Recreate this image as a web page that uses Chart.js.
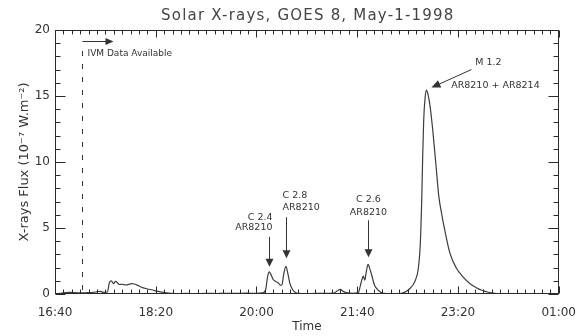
<!DOCTYPE html>
<html>
<head>
<meta charset="utf-8">
<script src="https://cdn.jsdelivr.net/npm/chart.js@4/dist/chart.umd.min.js"></script>
<style>
  html, body { margin: 0; padding: 0; background: #fff; }
  canvas { display: block; }
</style>
</head>
<body>
<canvas id="c" width="588" height="336"></canvas>
<script>
// ---- data (time in minutes after 16:40, flux in 10^-7 W.m^-2) ----
const startLabel = '16:40';
const tickLabels = ['16:40', '18:20', '20:00', '21:40', '23:20', '01:00'];
const minutes = [
  0, 5, 10, 15, 20, 26, 32, 38, 42, 45, 48, 52, 54, 56, 58, 60, 62, 64, 67, 70,
  73, 76, 79, 83, 87, 92, 97, 101, 106, 111, 116, 121, 130, 140, 150, 160, 170, 180, 190, 200,
  206, 209, 211, 212.6, 214.5, 216.6, 219, 221.5, 224, 225.5, 227, 229.2, 231, 233, 235, 237, 241, 250, 260, 270,
  276, 280, 283, 286, 289, 295, 301, 303, 304.5, 306, 307.5, 309, 310.8, 312.5, 314.5, 317, 320, 323, 326, 335,
  342, 346, 349, 352, 355.5, 358, 360.4, 362, 363, 364, 365, 366, 367.3, 368.7, 370, 372, 375, 378, 381, 384,
  387, 392, 398.5, 405, 411.7, 418.3, 423, 428, 433, 438
];
const flux = [
  0.02, 0.05, 0.10, 0.12, 0.10, 0.08, 0.10, 0.12, 0.18, 0.20, 0.12, 0.15, 0.88, 1.00, 0.78, 0.95, 0.85, 0.72, 0.74, 0.68,
  0.72, 0.78, 0.76, 0.62, 0.48, 0.38, 0.30, 0.22, 0.14, 0.08, 0.05, 0.03, 0.04, 0.02, 0.05, 0.03, 0.05, 0.04, 0.06, 0.05,
  0.08, 0.30, 1.30, 1.68, 1.45, 1.10, 0.95, 0.85, 0.65, 0.75, 1.50, 2.10, 1.60, 0.85, 0.45, 0.22, 0.05, 0.02, 0.05, 0.04,
  0.06, 0.22, 0.35, 0.20, 0.10, 0.05, 0.08, 0.60, 1.05, 1.35, 1.05, 1.70, 2.25, 1.90, 1.40, 0.70, 0.35, 0.15, 0.04, 0.02,
  0.03, 0.10, 0.20, 0.40, 0.70, 1.10, 1.80, 3.00, 4.50, 7.00, 10.5, 13.2, 14.8, 15.45, 15.2, 14.4, 12.4, 9.9, 7.4, 6.0,
  4.8, 3.1, 1.95, 1.3, 0.8, 0.48, 0.30, 0.18, 0.08, 0.03
];
const ivmStart = 26.5;               // minutes after 16:40
const flareClasses = ['C 2.4', 'C 2.8', 'C 2.6', 'M 1.2'];
const flareRegions = ['AR8210', 'AR8210', 'AR8210', 'AR8210 + AR8214'];
const flareTimes = [212.3, 229.2, 310.8, 368.7];
const flarePeaks = [1.68, 2.10, 2.25, 15.45];

const FONT = "'DejaVu Sans', sans-serif";
const INK = '#333';

function fmtTime(v) {
  const [h0, m0] = startLabel.split(':').map(Number);
  let t = h0 * 60 + m0 + Math.round(v);
  t = ((t % 1440) + 1440) % 1440;
  const h = Math.floor(t / 60), m = t % 60;
  return String(h).padStart(2, '0') + ':' + String(m).padStart(2, '0');
}

function arrowHead(ctx, tx, ty, dx, dy, len, half) {
  const L = Math.hypot(dx, dy); const ux = dx / L, uy = dy / L;
  const bx = tx - ux * len, by = ty - uy * len;
  ctx.beginPath();
  ctx.moveTo(tx, ty);
  ctx.lineTo(bx - uy * half, by + ux * half);
  ctx.lineTo(bx + uy * half, by - ux * half);
  ctx.closePath();
  ctx.fill();
}

const decor = {
  id: 'decor',
  afterDraw(chart) {
    const ctx = chart.ctx;
    const xs = chart.scales.x, ys = chart.scales.y;
    const a = chart.chartArea;
    const L = Math.round(a.left) + 0.5, R = Math.round(a.right) - 0.5;
    const T = Math.round(a.top) + 0.5, B = Math.round(a.bottom) - 0.5;
    ctx.save();
    ctx.lineWidth = 1;
    ctx.strokeStyle = '#2a2a2a';
    // x ticks (top and bottom)
    ctx.beginPath();
    for (let i = 0; i <= 60; i++) {
      const v = xs.min + i * (xs.max - xs.min) / 60;
      const px = Math.round(xs.getPixelForValue(v)) + 0.5;
      const len = (i % 12 === 0) ? 7 : 4;
      ctx.moveTo(px, B); ctx.lineTo(px, B - len);
      ctx.moveTo(px, T); ctx.lineTo(px, T + len);
    }
    // y ticks (left and right)
    for (let v = ys.min; v <= ys.max; v += 1) {
      const py = Math.round(ys.getPixelForValue(v)) + 0.5;
      const len = (v % 5 === 0) ? 10 : 5;
      ctx.moveTo(L, py); ctx.lineTo(L + len, py);
      ctx.moveTo(R, py); ctx.lineTo(R - len, py);
    }
    ctx.stroke();
    // frame
    ctx.strokeRect(L, T, R - L, B - T);
    ctx.strokeStyle = INK; ctx.fillStyle = INK;

    // IVM data available marker
    const ix = Math.round(xs.getPixelForValue(ivmStart)) + 0.5;
    ctx.setLineDash([5, 8]);
    ctx.beginPath(); ctx.moveTo(ix, a.top + 21); ctx.lineTo(ix, a.bottom); ctx.stroke();
    ctx.setLineDash([]);
    const ay = a.top + 11.5;
    ctx.beginPath(); ctx.moveTo(ix, ay); ctx.lineTo(ix + 24, ay); ctx.stroke();
    arrowHead(ctx, ix + 31, ay, 1, 0, 8, 3.5);
    ctx.font = '9px ' + FONT; ctx.textBaseline = 'middle'; ctx.textAlign = 'left';
    ctx.fillText('IVM Data Available', ix + 5, a.top + 23.5);

    // flare annotations
    const layout = [
      { gap: 5, len: 30, align: 'right', dx: 3, y1: -19.5, y2: -9 },
      { gap: 8, len: 41, align: 'left', dx: -4, y1: -21.5, y2: -10 },
      { gap: 7, len: 37, align: 'center', dx: 0, y1: -21, y2: -8 }
    ];
    ctx.font = '9.5px ' + FONT;
    for (let k = 0; k < 3; k++) {
      const o = layout[k];
      const px = Math.round(xs.getPixelForValue(flareTimes[k])) + 0.5;
      const tip = ys.getPixelForValue(flarePeaks[k]) - o.gap;
      const top = tip - o.len;
      ctx.beginPath(); ctx.moveTo(px, top); ctx.lineTo(px, tip - 6); ctx.stroke();
      arrowHead(ctx, px, tip, 0, 1, 8, 4);
      ctx.textAlign = o.align;
      ctx.fillText(flareClasses[k], px + o.dx, top + o.y1);
      ctx.fillText(flareRegions[k], px + o.dx, top + o.y2);
    }
    // M flare
    const mx = xs.getPixelForValue(flareTimes[3]), my = ys.getPixelForValue(flarePeaks[3]);
    const tx = mx + 5, ty = my - 2.5, sx = tx + 40, sy = ty - 18;
    ctx.beginPath(); ctx.moveTo(sx, sy); ctx.lineTo(tx + 5, ty - 2.2); ctx.stroke();
    arrowHead(ctx, tx, ty, tx - sx, ty - sy, 9, 4);
    ctx.textAlign = 'center';
    ctx.fillText(flareClasses[3], mx + 62, my - 28);
    ctx.fillText(flareRegions[3], mx + 69, my - 5);

    // title
    ctx.font = '15px ' + FONT;
    ctx.textAlign = 'center'; ctx.textBaseline = 'middle';
    ctx.fillStyle = '#444';
    if ('letterSpacing' in ctx) ctx.letterSpacing = '1.2px';
    ctx.fillText('Solar X-rays, GOES 8, May-1-1998', (a.left + a.right) / 2 + 1, 16);
    ctx.restore();
  }
};

new Chart(document.getElementById('c'), {
  type: 'line',
  data: {
    datasets: [{
      data: minutes.map((m, i) => ({ x: m, y: flux[i] })),
      borderColor: '#3c3c3c',
      borderWidth: 1.2,
      pointRadius: 0,
      cubicInterpolationMode: 'monotone',
      fill: false
    }]
  },
  options: {
    responsive: false,
    animation: false,
    devicePixelRatio: 1,
    layout: { padding: { top: 30, right: 29, left: 0, bottom: 0 } },
    plugins: { legend: { display: false }, tooltip: { enabled: false }, title: { display: false } },
    scales: {
      x: {
        type: 'linear', min: 0, max: 500,
        afterBuildTicks: s => { s.ticks = tickLabels.map((_, i) => ({ value: i * 100 })); },
        ticks: {
          callback: (v) => fmtTime(v), autoSkip: false, maxRotation: 0,
          font: { family: FONT, size: 12 }, color: INK, padding: 12
        },
        grid: { display: false, drawTicks: false },
        border: { display: false },
        title: { display: true, text: 'Time', font: { family: FONT, size: 12 }, color: INK, padding: { top: 0, bottom: 2 } },
        afterFit: s => { s.height = 42; }
      },
      y: {
        min: 0, max: 20,
        ticks: { stepSize: 5, font: { family: FONT, size: 12 }, color: INK, padding: 5 },
        grid: { display: false, drawTicks: false },
        border: { display: false },
        title: { display: true, text: 'X-rays Flux (10⁻⁷ W.m⁻²)', font: { family: FONT, size: 13 }, color: INK, padding: { top: 17, bottom: 0 } },
        afterFit: s => { s.width = 55; }
      }
    }
  },
  plugins: [decor]
});
</script>
</body>
</html>
